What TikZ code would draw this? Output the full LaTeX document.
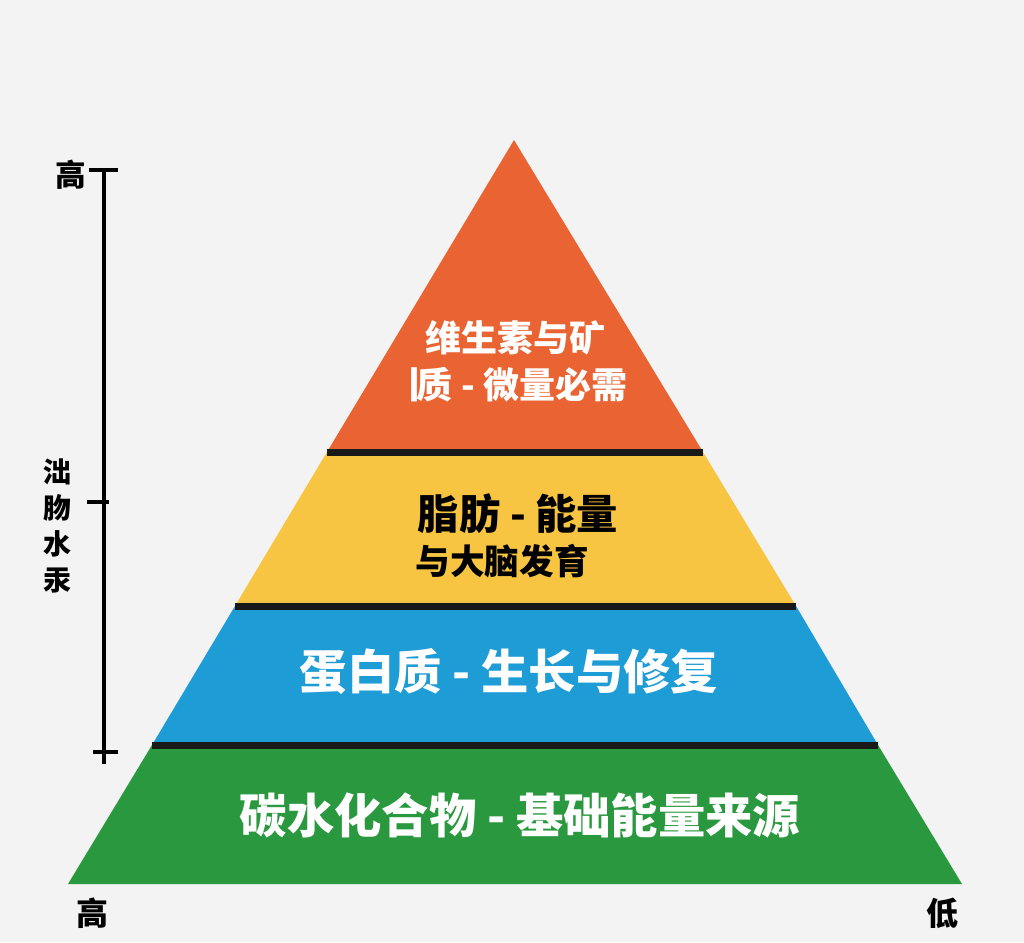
\documentclass[tikz,border=0pt]{standalone}
\usepackage{fontspec}
\newfontfamily\cjk{Noto Sans CJK SC}
\definecolor{bggray}{RGB}{243,243,243}
\definecolor{vitorange}{RGB}{233,100,50}
\definecolor{fatyellow}{RGB}{247,197,66}
\definecolor{protblue}{RGB}{30,156,214}
\definecolor{carbgreen}{RGB}{42,152,62}
\tikzset{every picture/.style={line width=0.75pt}}
\tikzset{
  bandtext/.style={inner sep=0.75pt, align=center, font=\cjk\bfseries},
  axistext/.style={inner sep=0.75pt, font=\cjk\bfseries},
  divider/.style={line width=5.25pt, color=black!90},
}

\begin{document}
\begin{tikzpicture}[x=0.75pt,y=0.75pt,yscale=-1,xscale=1]
		%background
		\fill[bggray] (0,0) rectangle (1024,942);
		\useasboundingbox (0,0) rectangle (1024,942);

		%Pyramid corners
		\coordinate (apex) at (514,140);
		\coordinate (l1) at (327,452);
		\coordinate (r1) at (703,452);
		\coordinate (l2) at (235,606);
		\coordinate (r2) at (796,606);
		\coordinate (l3) at (152,745);
		\coordinate (r3) at (878,745);
		\coordinate (bl) at (68,884);
		\coordinate (br) at (962,884);

		%Shape: Triangle (top band)
		\fill[vitorange] (apex) -- (r1) -- (l1) -- cycle ;
		%Shape: Trapezoid (fat band)
		\fill[fatyellow] (l1) -- (r1) -- (r2) -- (l2) -- cycle ;
		%Shape: Trapezoid (protein band)
		\fill[protblue] (l2) -- (r2) -- (r3) -- (l3) -- cycle ;
		%Shape: Trapezoid (carb band)
		\fill[carbgreen] (l3) -- (r3) -- (br) -- (bl) -- cycle ;

		%Straight Lines: dividers
		\draw[divider] (l1) -- (r1) ;
		\draw[divider] (l2) -- (r2) ;
		\draw[divider] (l3) -- (r3) ;

		%Straight Lines: axis
		\coordinate (axtop) at (104,168);
		\coordinate (axbot) at (104,764);
		\draw[line width=3pt] (axtop) -- (axbot) ;
		\draw[line width=3pt] (89,170) -- (118,170) ;
		\draw[line width=3pt] (87,502) -- (109,502) ;
		\draw[line width=3pt] (93,752) -- (118,752) ;

		% Text Node
		\node[axistext, font=\cjk\bfseries\fontsize{23}{23}\selectfont] (axhigh) at (71,175) {高};
		% Text Node
		\node[axistext, align=center, font=\cjk\bfseries\fontsize{21}{27}\selectfont] (axname) at (57,526) {泏\\肳\\水\\汞};
		% Text Node
		\node[axistext, font=\cjk\bfseries\fontsize{24}{24}\selectfont] (basehigh) at (92,913) {高};
		% Text Node
		\node[axistext, font=\cjk\bfseries\fontsize{24}{24}\selectfont] (baselow) at (942,913) {低};

		% Text Node
		\node[bandtext, text=white, font=\cjk\bfseries\fontsize{27}{27}\selectfont] (vittop) at (515,338) {维生素与矿};
		% Text Node
		\node[bandtext, text=white, font=\cjk\bfseries\fontsize{27}{27}\selectfont] (vitbot) at (512,385) {丨\hspace{-0.45em}质 - 微量必需};
		% Text Node
		\node[bandtext, font=\cjk\bfseries\fontsize{31}{31}\selectfont] (fattop) at (518,514) {脂肪 - 能量};
		% Text Node
		\node[bandtext, font=\cjk\bfseries\fontsize{26}{26}\selectfont] (fatbot) at (502,561) {与大脑发育};
		% Text Node
		\node[bandtext, text=white, font=\cjk\bfseries\fontsize{35.5}{35.5}\selectfont] (prottext) at (509,672) {蛋白质 - 生长与修复};
		% Text Node
		\node[bandtext, text=white, font=\cjk\bfseries\fontsize{35.5}{35.5}\selectfont] (carbtext) at (520,815) {碳水化合物 - 基础能量来源};
	\end{tikzpicture}
\end{document}
